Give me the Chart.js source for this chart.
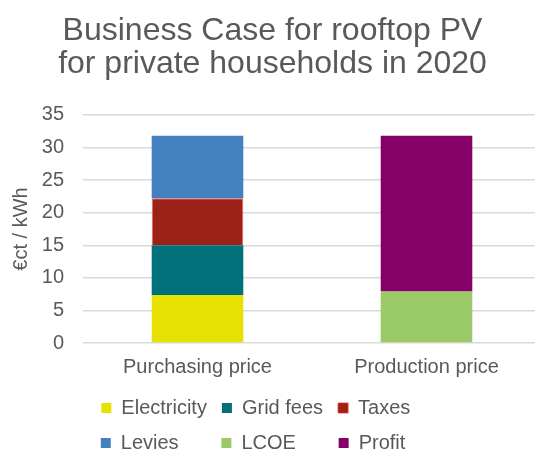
<!DOCTYPE html>
<html>
<head>
<meta charset="utf-8">
<script src="https://cdn.jsdelivr.net/npm/chart.js@4"></script>
<style>
  html, body { margin: 0; padding: 0; background: #fff; overflow: hidden; }
  /* a little wider than the window: the plot runs off the right edge, as in the original */
  #wrap { width: 541px; height: 450px; position: relative; }
</style>
</head>
<body>
<div id="wrap"><canvas id="chart"></canvas></div>
<script>
// chart data
const categories = ["Purchasing price", "Production price"];
const seriesNames = ["Electricity", "Grid fees", "Taxes", "Levies", "LCOE", "Profit"];
const electricity = [7.35, null];
const gridFees = [7.65, null];
const taxes = [7.2, null];
const levies = [9.6, null];
const lcoe = [null, 7.9];
const profit = [null, 23.9];
const yTicks = [0, 5, 10, 15, 20, 25, 30, 35];

const TEXT = "#595959";
const FONT = "'Liberation Sans', Arial, sans-serif";

const colors = ["#E6E100", "#00717A", "#9C2217", "#4480C0", "#9BCB69", "#870068"];
const values = [electricity, gridFees, taxes, levies, lcoe, profit];

const datasets = seriesNames.map((name, i) => ({
    label: name,
    data: values[i],
    backgroundColor: colors[i],
    borderColor: i === 2 ? "rgba(235, 45, 45, 0.75)" : colors[i],
    borderWidth: i === 2 ? 1 : 0,
    stack: "s",
    categoryPercentage: 1.0,
    barPercentage: 0.40
}));

// pad legend texts so both rows line up in columns (like the original)
function padLabels(chart, items) {
    const ctx = chart.ctx;
    ctx.save();
    ctx.font = "20px " + FONT;
    const cols = 3;
    for (let c = 0; c < cols; c++) {
        const col = items.filter((_, i) => i % cols === c);
        const target = Math.max(...col.map(it => ctx.measureText(it.text).width));
        col.forEach(it => {
            while (ctx.measureText(it.text + " ").width <= target + 2) {
                it.text += " ";
            }
            if (c === cols - 1) it.text += "      "; // nudges rows a bit to the left
        });
    }
    ctx.restore();
    return items;
}

// legend wraps after 3 items: let it fit its rows in a narrower width
const legendRows = {
    id: "legendRows",
    beforeLayout(chart) {
        const lg = chart.legend;
        if (!lg || lg._narrow) return;
        const fit = lg.fit.bind(lg);
        lg.fit = function () {
            const full = this.maxWidth;
            this.maxWidth = 430;
            fit();
            this.maxWidth = full;
            this.width = full;
            this.height -= 13;
        };
        lg._narrow = true;
    }
};

new Chart(document.getElementById("chart"), {
    type: "bar",
    data: { labels: categories, datasets: datasets },
    plugins: [legendRows],
    options: {
        responsive: true,
        maintainAspectRatio: false,
        animation: false,
        layout: { padding: { left: 4, right: 0, top: 0, bottom: 0 } },
        plugins: {
            title: {
                display: true,
                text: ["Business Case for rooftop PV", "for private households in 2020"],
                color: TEXT,
                font: { family: FONT, size: 32, weight: "normal", lineHeight: 1.03 },
                padding: { top: 15, bottom: 34 }
            },
            legend: {
                position: "bottom",
                labels: {
                    color: TEXT,
                    font: { family: FONT, size: 20 },
                    boxWidth: 10,
                    boxHeight: 10,
                    padding: 15,
                    generateLabels: (chart) => {
                        const items = Chart.defaults.plugins.legend.labels.generateLabels(chart);
                        return padLabels(chart, items);
                    }
                }
            },
            tooltip: { enabled: false }
        },
        scales: {
            x: {
                stacked: true,
                grid: { display: false },
                border: { display: false },
                ticks: { color: TEXT, font: { family: FONT, size: 20 }, padding: 4 }
            },
            y: {
                stacked: true,
                min: 0,
                max: 35,
                afterBuildTicks: (axis) => { axis.ticks = yTicks.map(v => ({ value: v })); },
                afterFit: (axis) => { axis.width = 79; },
                grid: { color: "#D9D9D9", lineWidth: 1.5, drawTicks: false },
                border: { display: false },
                ticks: { color: TEXT, font: { family: FONT, size: 20 }, padding: 19 },
                title: {
                    display: true,
                    text: "€ct / kWh",
                    color: TEXT,
                    font: { family: FONT, size: 20 },
                    padding: { top: 5, bottom: 9 }
                }
            }
        }
    }
});
</script>
</body>
</html>
